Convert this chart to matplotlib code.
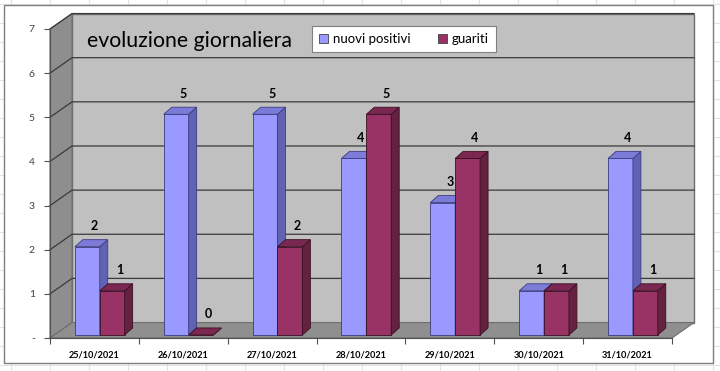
import matplotlib
matplotlib.use('Agg')
import matplotlib.pyplot as plt
from matplotlib.patches import Polygon, Rectangle, Patch
from matplotlib.lines import Line2D

plt.rcParams['font.family'] = ['Lato', 'DejaVu Sans']

# Data
categories = ['25/10/2021', '26/10/2021', '27/10/2021', '28/10/2021',
              '29/10/2021', '30/10/2021', '31/10/2021']
nuovi_positivi = [2, 5, 5, 4, 3, 1, 4]
guariti = [1, 0, 2, 5, 4, 1, 1]
y_ticks = [0, 1, 2, 3, 4, 5, 6, 7]
y_tick_labels = ['-', '1', '2', '3', '4', '5', '6', '7']

# Colours (Excel 2003 style palette): front, side, top, edge
blue = ('#9999ff', '#6262b4', '#7c7cd8', '#3c3c80')
red = ('#993366', '#642240', '#7a2852', '#3a1024')

# 3D offsets in data units
wall_dx, wall_dy = 0.248, 0.35   # depth of walls/floor
plane_dx, plane_dy = 0.06, 0.068  # bars sit a bit inside the floor
bar_dx, bar_dy = 0.09, 0.16       # depth of each bar
bar_w = 0.28

fig = plt.figure(figsize=(7.2, 3.71), dpi=100)
W, H = 720, 371

# spreadsheet grid behind the chart
for gx in range(11, W, 39):
    fig.add_artist(Line2D([gx / W, gx / W], [0, 1], color='#e3e3e3', lw=0.8, zorder=-3))
for gy in range(4, H, 19):
    fig.add_artist(Line2D([0, 1], [1 - gy / H, 1 - gy / H], color='#e3e3e3', lw=0.8, zorder=-3))
fig.add_artist(Rectangle((4 / W, 1 - 363 / H), 709 / W, 358 / H, transform=fig.transFigure,
                         facecolor='white', edgecolor='#7f7f7f', lw=1.0, zorder=-2))

ax = fig.add_axes([50 / W, 33 / H, 622 / W, 309 / H])
ax.set_zorder(1)
ax.patch.set_visible(False)
n = len(categories)
ax.set_xlim(0, n)
ax.set_ylim(0, 7)

# back wall
ax.add_patch(Rectangle((wall_dx, wall_dy), n, 7, facecolor='#c0c0c0', edgecolor='#6e6e6e',
                       lw=1.0, clip_on=False, zorder=0))
# left wall
ax.add_patch(Polygon([(0, 0), (0, 7), (wall_dx, 7 + wall_dy), (wall_dx, wall_dy)],
                     facecolor='#8e8e8e', edgecolor='#6e6e6e', lw=0.8, clip_on=False, zorder=0))
# floor
ax.add_patch(Polygon([(0, 0), (n, 0), (n + wall_dx, wall_dy), (wall_dx, wall_dy)],
                     facecolor='#8f8f8f', edgecolor='#6e6e6e', lw=0.8, clip_on=False, zorder=0))
# gridlines on walls
for t in y_ticks[1:]:
    ax.plot([0, wall_dx, n + wall_dx], [t, t + wall_dy, t + wall_dy], color='#3a3a3a',
            lw=0.9, clip_on=False, zorder=0.5)

# bars with 3D faces
def draw_bar(x0, h, col, z):
    x1 = x0 + bar_w
    y0 = plane_dy
    ax.bar(x0, h, width=bar_w, bottom=y0, align='edge', color=col[0], edgecolor=col[3],
           lw=0.6, zorder=z, clip_on=False)
    ax.add_patch(Polygon([(x1, y0), (x1 + bar_dx, y0 + bar_dy), (x1 + bar_dx, y0 + h + bar_dy),
                          (x1, y0 + h)], facecolor=col[1], edgecolor=col[3], lw=0.6,
                         zorder=z, clip_on=False))
    ax.add_patch(Polygon([(x0, y0 + h), (x1, y0 + h), (x1 + bar_dx, y0 + h + bar_dy),
                          (x0 + bar_dx, y0 + h + bar_dy)], facecolor=col[2], edgecolor=col[3],
                         lw=0.6, zorder=z, clip_on=False))
    ax.text(x0 + bar_w / 2 + 0.08, y0 + h + 0.47, str(h), ha='center', va='center',
            fontsize=9, fontweight='bold', color='black', zorder=10, clip_on=False)

for i in range(n):
    centre = i + 0.5 + plane_dx
    draw_bar(centre - bar_w, nuovi_positivi[i], blue, 2 + i * 2)
    draw_bar(centre, guariti[i], red, 3 + i * 2)

# axes styling
for s in ['top', 'right']:
    ax.spines[s].set_visible(False)
ax.spines['left'].set_color('#505050')
ax.spines['bottom'].set_color('#505050')
ax.spines['left'].set_zorder(1)
ax.spines['bottom'].set_zorder(1)
ax.set_yticks(y_ticks)
ax.set_yticklabels(y_tick_labels, fontsize=7.5, color='#404040')
ax.tick_params(axis='y', length=4, color='#505050', pad=7)
ax.set_xticks(range(n + 1))
ax.set_xticklabels([])
ax.set_xticks([i + 0.5 for i in range(n)], minor=True)
ax.set_xticklabels(categories, minor=True, fontsize=6.6, fontweight='bold')
ax.tick_params(axis='x', which='major', length=4, color='#505050')
ax.tick_params(axis='x', which='minor', length=0, pad=9)

fig.text(87 / W, 1 - 41 / H, 'evoluzione giornaliera', fontsize=15.3, va='center', ha='left')

handles = [Patch(facecolor=blue[0], edgecolor='#404040', lw=0.6),
           Patch(facecolor=red[0], edgecolor='#404040', lw=0.6)]
leg = fig.legend(handles, ['nuovi positivi', 'guariti'], loc='center',
                 bbox_to_anchor=(404 / W, 1 - 39 / H), ncol=2, fontsize=9.5,
                 frameon=True, fancybox=False, edgecolor='#808080', framealpha=1,
                 handlelength=0.7, handleheight=0.7, handletextpad=0.4,
                 columnspacing=2.0, borderpad=0.55)
leg.get_frame().set_linewidth(0.8)
leg.set_zorder(20)

plt.savefig('out.png', dpi=100)
plt.close()
